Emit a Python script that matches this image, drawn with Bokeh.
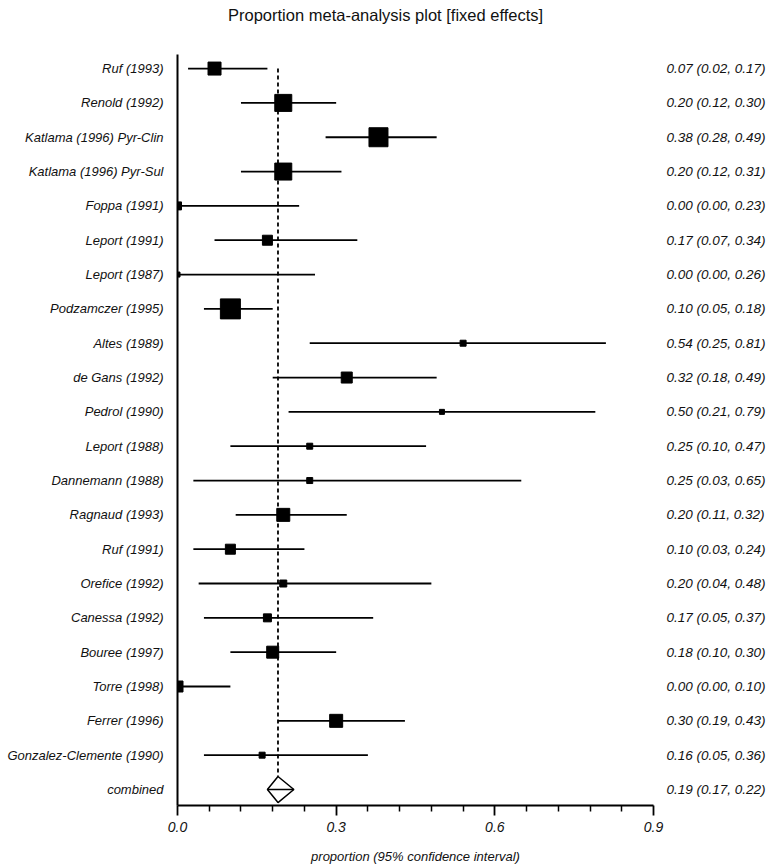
from bokeh.plotting import figure
from bokeh.models import FixedTicker, LinearAxis, PrintfTickFormatter, Div
from bokeh.layouts import column
from bokeh.embed import file_html
from bokeh.resources import INLINE

studies = ["Ruf (1993)", "Renold (1992)", "Katlama (1996) Pyr-Clin", "Katlama (1996) Pyr-Sul",
           "Foppa (1991)", "Leport (1991)", "Leport (1987)", "Podzamczer (1995)", "Altes (1989)",
           "de Gans (1992)", "Pedrol (1990)", "Leport (1988)", "Dannemann (1988)", "Ragnaud (1993)",
           "Ruf (1991)", "Orefice (1992)", "Canessa (1992)", "Bouree (1997)", "Torre (1998)",
           "Ferrer (1996)", "Gonzalez-Clemente (1990)"]
est = [0.07, 0.20, 0.38, 0.20, 0.00, 0.17, 0.00, 0.10, 0.54, 0.32, 0.50, 0.25, 0.25, 0.20,
       0.10, 0.20, 0.17, 0.18, 0.00, 0.30, 0.16]
lo = [0.02, 0.12, 0.28, 0.12, 0.00, 0.07, 0.00, 0.05, 0.25, 0.18, 0.21, 0.10, 0.03, 0.11,
      0.03, 0.04, 0.05, 0.10, 0.00, 0.19, 0.05]
hi = [0.17, 0.30, 0.49, 0.31, 0.23, 0.34, 0.26, 0.18, 0.81, 0.49, 0.79, 0.47, 0.65, 0.32,
      0.24, 0.48, 0.37, 0.30, 0.10, 0.43, 0.36]
box_size = [13, 17, 19, 17, 8, 10, 5, 20, 6, 11, 5, 6, 6, 13, 10, 7, 8, 12, 11, 13, 6]
pooled_label = "combined"
pooled = 0.19
pooled_lo = 0.17
pooled_hi = 0.22
x_ticks = [0.0, 0.3, 0.6, 0.9]
x_minor = [0.06, 0.12, 0.18, 0.24, 0.36, 0.42, 0.48, 0.54, 0.66, 0.72, 0.78, 0.84]
title_text = "Proportion meta-analysis plot [fixed effects]"

n = len(studies)
ys = [n - i for i in range(n)]   # first study at top, combined at 0
y_comb = 0
half_h = 0.38

FONT = "Liberation Sans"

title_div = Div(text=title_text, width=769, height=30, margin=0,
                styles={"font-family": FONT, "font-size": "16.5px", "color": "#111111",
                        "padding-left": "228px", "line-height": "30px",
                        "white-space": "nowrap", "box-sizing": "border-box"})

p = figure(width=769, height=836, output_backend="svg", toolbar_location=None,
           title_location=None,
           x_range=(0, 0.9), y_range=(-0.466, n + 0.41),
           min_border_left=177, min_border_right=116, min_border_top=24, min_border_bottom=61)

p.xgrid.visible = False
p.ygrid.visible = False
p.outline_line_color = None
p.background_fill_color = "white"

# confidence intervals
p.segment(x0=lo, y0=ys, x1=hi, y1=ys, line_color="black", line_width=1.8)
# dashed pooled line
p.segment(x0=[pooled], y0=[ys[0]], x1=[pooled], y1=[y_comb + half_h],
          line_color="black", line_width=1.8, line_dash="4 3")
# weight boxes
p.scatter(x=est, y=ys, size=box_size, marker="square", fill_color="black", line_color="black")
# combined diamond
p.patch(x=[pooled_lo, pooled, pooled_hi, pooled], y=[y_comb, y_comb + half_h, y_comb, y_comb - half_h],
        fill_color="white", line_color="black", line_width=1.5)
p.segment(x0=[pooled_lo], y0=[y_comb], x1=[pooled_hi], y1=[y_comb], line_color="black", line_width=1.5)

# x axis
xa = p.xaxis[0]
xa.ticker = FixedTicker(ticks=x_ticks, minor_ticks=x_minor)
xa.formatter = PrintfTickFormatter(format="%.1f")
xa.axis_line_width = 1.8
xa.major_tick_line_width = 1.8
xa.minor_tick_line_width = 1.5
xa.major_tick_in = 0
xa.major_tick_out = 10
xa.minor_tick_in = 0
xa.minor_tick_out = 6
xa.major_label_standoff = 6
xa.major_label_text_font = FONT
xa.major_label_text_font_style = "italic"
xa.major_label_text_font_size = "14px"
xa.major_label_text_color = "#111111"
xa.axis_label = "proportion (95% confidence interval)"
xa.axis_label_text_font = FONT
xa.axis_label_text_font_style = "italic"
xa.axis_label_text_font_size = "13px"
xa.axis_label_text_color = "#111111"
xa.axis_label_standoff = 14

# left axis with study names
all_y = ys + [y_comb]
left_labels = {y: s for y, s in zip(ys, studies)}
left_labels[y_comb] = pooled_label
ya = p.yaxis[0]
ya.ticker = FixedTicker(ticks=all_y, minor_ticks=[])
ya.major_label_overrides = left_labels
ya.axis_line_width = 2
ya.major_tick_line_color = None
ya.minor_tick_line_color = None
ya.major_label_standoff = 8
ya.major_label_text_font = FONT
ya.major_label_text_font_style = "italic"
ya.major_label_text_font_size = "13px"
ya.major_label_text_color = "#111111"

# right axis with estimates
right_text = ["%.2f (%.2f, %.2f)" % (e, l, h) for e, l, h in zip(est, lo, hi)]
right_labels = {y: s for y, s in zip(ys, right_text)}
right_labels[y_comb] = "%.2f (%.2f, %.2f)" % (pooled, pooled_lo, pooled_hi)
ra = LinearAxis(ticker=FixedTicker(ticks=all_y, minor_ticks=[]))
ra.major_label_overrides = right_labels
ra.axis_line_color = None
ra.major_tick_line_color = None
ra.minor_tick_line_color = None
ra.major_label_standoff = 7
ra.major_label_text_font = FONT
ra.major_label_text_font_style = "italic"
ra.major_label_text_font_size = "13.5px"
ra.major_label_text_color = "#111111"
p.add_layout(ra, "right")

layout = column(title_div, p, spacing=0)
open("out.html", "w").write(file_html(layout, INLINE))
